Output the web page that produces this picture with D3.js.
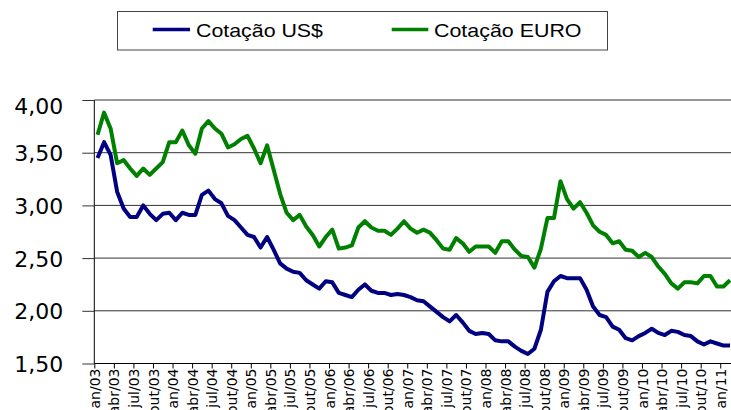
<!DOCTYPE html>
<html>
<head>
<meta charset="utf-8">
<script src="https://cdn.jsdelivr.net/npm/d3@7"></script>
<style>
  html, body { margin: 0; padding: 0; background: #fff; }
  svg { display: block; }
</style>
</head>
<body>
<div id="chart"></div>
<script>
// Month names and years used to build the category labels
var monthNames = ['jan', 'fev', 'mar', 'abr', 'mai', 'jun', 'jul', 'ago', 'set', 'out', 'nov', 'dez'],
    years = ['03', '04', '05', '06', '07', '08', '09', '10', '11'];

var categories = [];
years.forEach(function(y) {
    monthNames.forEach(function(m) { categories.push(m + '/' + y); });
});
categories = categories.slice(0, 98); // jan/03 .. fev/11

// Cotação US$
var usdValues = [
    3.45, 3.60, 3.48, 3.13, 2.97, 2.89, 2.89, 3.00, 2.92, 2.86, 2.92, 2.93,
    2.86, 2.93, 2.91, 2.91, 3.10, 3.14, 3.06, 3.02, 2.90, 2.86, 2.79, 2.72,
    2.70, 2.60, 2.70, 2.58, 2.45, 2.40, 2.37, 2.36, 2.29, 2.25, 2.21, 2.28,
    2.27, 2.17, 2.15, 2.13, 2.20, 2.25, 2.19, 2.17, 2.17, 2.15, 2.16, 2.15,
    2.13, 2.10, 2.09, 2.04, 1.99, 1.94, 1.90, 1.96, 1.89, 1.81, 1.78, 1.79,
    1.78, 1.72, 1.71, 1.71, 1.66, 1.62, 1.59, 1.64, 1.82, 2.18, 2.28, 2.33,
    2.31, 2.31, 2.31, 2.20, 2.04, 1.96, 1.94, 1.85, 1.82, 1.74, 1.72, 1.76,
    1.79, 1.83, 1.79, 1.77, 1.81, 1.80, 1.77, 1.76, 1.71, 1.68, 1.71, 1.69,
    1.67, 1.67
];

// Cotação EURO
var euroValues = [
    3.67, 3.88, 3.73, 3.40, 3.43, 3.35, 3.28, 3.35, 3.29, 3.35, 3.41, 3.60,
    3.60, 3.71, 3.57, 3.49, 3.73, 3.80, 3.73, 3.68, 3.55, 3.58, 3.63, 3.66,
    3.54, 3.40, 3.57, 3.34, 3.11, 2.93, 2.86, 2.91, 2.80, 2.72, 2.61, 2.70,
    2.77, 2.59, 2.60, 2.62, 2.79, 2.85, 2.79, 2.76, 2.76, 2.72, 2.78, 2.85,
    2.78, 2.74, 2.77, 2.74, 2.67, 2.59, 2.58, 2.69, 2.64, 2.56, 2.61, 2.61,
    2.61, 2.55, 2.66, 2.66, 2.58, 2.52, 2.51, 2.41, 2.59, 2.88, 2.88, 3.23,
    3.06, 2.97, 3.03, 2.93, 2.81, 2.75, 2.72, 2.64, 2.66, 2.58, 2.57, 2.51,
    2.55, 2.51, 2.42, 2.35, 2.26, 2.21, 2.27, 2.27, 2.26, 2.33, 2.33, 2.23,
    2.23, 2.29
];

var yTicks = [1.5, 2.0, 2.5, 3.0, 3.5, 4.0];

var seriesNames = ['Cotação US$', 'Cotação EURO'];

// Layout
var width = 731,
    height = 410,
    plotLeft = 94.3,
    plotTop = 100,
    plotBottom = 363.5,
    monthStep = 6.52,
    colors = ['#000080', '#008000'];

var svg = d3.select('#chart').append('svg')
    .attr('width', width)
    .attr('height', height);

// x is measured in category boundaries: points sit at the middle of each month
var x = d3.scaleLinear()
    .domain([0, categories.length])
    .range([plotLeft, plotLeft + monthStep * categories.length]);

var y = d3.scaleLinear()
    .domain([1.5, 4])
    .range([plotBottom, plotTop]);

// Gridlines
svg.append('g')
    .selectAll('line')
    .data(yTicks.slice(1))
    .enter()
    .append('line')
    .attr('x1', plotLeft)
    .attr('x2', width)
    .attr('y1', function(d) { return y(d); })
    .attr('y2', function(d) { return y(d); })
    .attr('stroke', '#333')
    .attr('stroke-width', 1);

// Y axis
var yAxis = svg.append('g')
    .attr('transform', 'translate(' + plotLeft + ',0)')
    .call(d3.axisLeft(y)
        .tickValues(yTicks)
        .tickSize(12)
        .tickPadding(19)
        .tickFormat(function(d) { return d3.format('.2f')(d).replace('.', ','); }));

yAxis.select('.domain').attr('stroke', '#000').attr('d', 'M0,' + plotTop + 'V' + plotBottom);
yAxis.selectAll('.tick line').attr('stroke', '#333');
yAxis.selectAll('.tick text')
    .attr('font-family', '"DejaVu Sans", Verdana, sans-serif')
    .attr('font-size', 22)
    .attr('fill', '#000')
    .attr('dy', function(d) { return d === 4 ? '0.6em' : '0.36em'; });

// X axis
var xAxis = svg.append('g')
    .attr('transform', 'translate(0,' + plotBottom + ')')
    .call(d3.axisBottom(x)
        .tickValues(d3.range(0, categories.length, 3))
        .tickSize(5)
        .tickFormat(function(i) { return categories[i]; }));

xAxis.select('.domain').attr('stroke', '#000').attr('d', 'M' + plotLeft + ',0H' + width);
xAxis.selectAll('.tick line').attr('stroke', '#000');
xAxis.selectAll('.tick text')
    .attr('font-family', '"DejaVu Sans", Verdana, sans-serif')
    .attr('font-size', 14)
    .attr('fill', '#000')
    .attr('text-anchor', 'end')
    .attr('transform', 'rotate(-90)')
    .attr('x', -5)
    .attr('y', 0)
    .attr('dy', '0.36em');

// Lines
var line = d3.line()
    .x(function(d, i) { return x(i + 0.5); })
    .y(function(d) { return y(d); });

[usdValues, euroValues].forEach(function(values, k) {
    svg.append('path')
        .datum(values)
        .attr('fill', 'none')
        .attr('stroke', colors[k])
        .attr('stroke-width', 4)
        .attr('stroke-linejoin', 'round')
        .attr('d', line);
});

// Legend
var legend = svg.append('g');

legend.append('rect')
    .attr('x', 117.5)
    .attr('y', 11.5)
    .attr('width', 490)
    .attr('height', 38.5)
    .attr('fill', '#fff')
    .attr('stroke', '#444')
    .attr('stroke-width', 1);

var legendItems = [
    { x1: 152.7, x2: 190, tx: 196, tw: 127 },
    { x1: 391.7, x2: 428.3, tx: 434, tw: 147.5 }
];

legendItems.forEach(function(item, k) {
    legend.append('line')
        .attr('x1', item.x1)
        .attr('x2', item.x2)
        .attr('y1', 29.5)
        .attr('y2', 29.5)
        .attr('stroke', colors[k])
        .attr('stroke-width', 3.5);
    legend.append('text')
        .attr('x', item.tx)
        .attr('y', 37.3)
        .attr('font-family', '"Liberation Sans", Arial, sans-serif')
        .attr('font-size', 18.5)
        .attr('textLength', item.tw)
        .attr('lengthAdjust', 'spacingAndGlyphs')
        .attr('fill', '#000')
        .text(seriesNames[k]);
});
</script>
</body>
</html>
